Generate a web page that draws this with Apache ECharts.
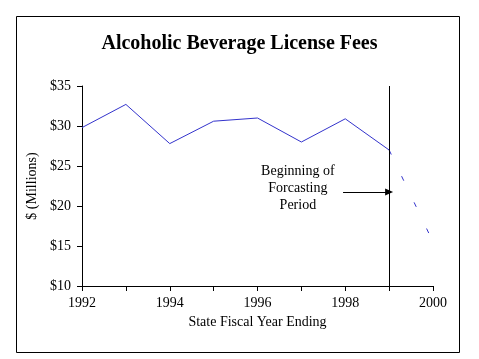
<!DOCTYPE html>
<html><head><meta charset="utf-8">
<script src="https://cdn.jsdelivr.net/npm/echarts@6/dist/echarts.min.js"></script>
<style>html,body{margin:0;padding:0;background:#fff}#c{width:479px;height:359px}</style>
</head><body><div id="c"></div>
<script>
var years = [1992, 1993, 1994, 1995, 1996, 1997, 1998, 1999];
var fees = [29.8, 32.7, 27.8, 30.6, 31.0, 28.0, 30.9, 27.0];
var forecastYears = [1999, 2000];
var forecastFees = [27.0, 15.5];
var xLabelYears = [1992, 1994, 1996, 1998, 2000];
var forecastStart = 1999;
var arrowFrom = [1997.95, 21.75];
var noteText = ['Beginning of', 'Forcasting', 'Period'];
var notePos = [1996.92, 22.15];

var font = '"Liberation Serif","Times New Roman",serif';
var chart = echarts.init(document.getElementById('c'), null, {renderer: 'canvas'});
var blue = '#3333cc';
chart.setOption({
  animation: false,
  backgroundColor: '#fff',
  title: {
    text: 'Alcoholic Beverage License Fees',
    left: 'center', top: 29,
    textStyle: {fontFamily: font, fontSize: 20, fontWeight: 'bold', color: '#000'}
  },
  grid: {left: 82, right: 46, top: 86, bottom: 73},
  xAxis: {
    type: 'value', min: 1992, max: 2000, interval: 1,
    name: 'State Fiscal Year Ending', nameLocation: 'middle', nameGap: 27,
    nameTextStyle: {fontFamily: font, fontSize: 14, color: '#000'},
    axisLine: {lineStyle: {color: '#000', width: 1}},
    axisTick: {length: 5, lineStyle: {color: '#000'}},
    splitLine: {show: false},
    axisLabel: {
      fontFamily: font, fontSize: 14, color: '#000', margin: 10,
      formatter: function (v) { return xLabelYears.indexOf(v) >= 0 ? String(v) : ''; }
    }
  },
  yAxis: {
    type: 'value', min: 10, max: 35, interval: 5,
    name: '$ (Millions)', nameLocation: 'middle', nameGap: 42,
    nameTextStyle: {fontFamily: font, fontSize: 14, color: '#000'},
    axisLine: {show: true, lineStyle: {color: '#000', width: 1}},
    axisTick: {show: true, length: 5, lineStyle: {color: '#000'}},
    splitLine: {show: false},
    axisLabel: {
      fontFamily: font, fontSize: 14, color: '#000', margin: 11,
      formatter: function (v) { return '$' + v; }
    }
  },
  series: [
    {
      type: 'line', symbol: 'none',
      data: years.map(function (y, i) { return [y, fees[i]]; }),
      lineStyle: {color: blue, width: 1},
      markLine: {
        silent: true, animation: false,
        symbol: ['none', 'none'],
        label: {show: false},
        lineStyle: {color: '#000', width: 1, type: 'solid'},
        data: [{xAxis: forecastStart}]
      }
    },
    {
      type: 'line', symbol: 'none',
      data: forecastYears.map(function (y, i) { return [y, forecastFees[i]]; }),
      lineStyle: {color: blue, width: 1, type: [5, 24]},
      markLine: {
        silent: true, animation: false,
        symbol: ['none', 'triangle'], symbolSize: [7, 8],
        label: {show: false},
        lineStyle: {color: '#000', width: 1, type: 'solid'},
        data: [[{coord: arrowFrom}, {coord: [forecastStart, arrowFrom[1]]}]]
      }
    }
  ]
});
var p = chart.convertToPixel({gridIndex: 0}, notePos);
chart.setOption({
  graphic: [
    {type: 'rect', shape: {x: 16.5, y: 16.5, width: 443, height: 336}, style: {fill: 'none', stroke: '#000', lineWidth: 1}, z: 100, silent: true},
    {type: 'text', x: p[0], y: p[1], style: {text: noteText.join('\n'), fontFamily: font, fontSize: 14, lineHeight: 17, fill: '#000', align: 'center', verticalAlign: 'middle'}, z: 100, silent: true}
  ]
});
</script></body></html>
